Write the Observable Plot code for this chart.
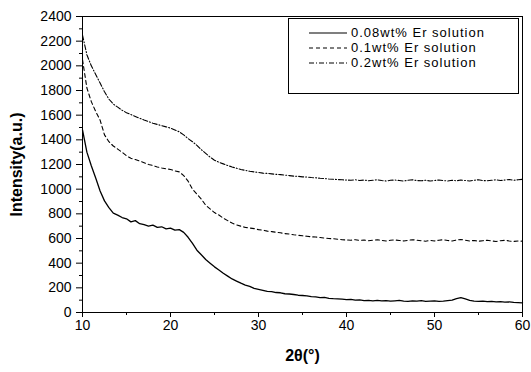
<!DOCTYPE html>
<html>
<head>
<meta charset="utf-8">
<script src="https://cdn.jsdelivr.net/npm/d3@7"></script>
<script src="https://cdn.jsdelivr.net/npm/@observablehq/plot@0.6"></script>
<style>
  html, body { margin: 0; padding: 0; background: #fff; }
  #wrap { position: relative; width: 531px; height: 372px; }
  #wrap svg [aria-label="x-axis label"] text,
  #wrap svg [aria-label="y-axis label"] text { font-weight: bold; font-size: 16px; }
  #legend {
    position: absolute; left: 288px; top: 18px; width: 231px; height: 76px;
    border: 1px solid #000; box-sizing: border-box; background: #fff;
    font-family: "Liberation Sans", Arial, sans-serif; font-size: 13px; line-height: 14px; color: #000;
  }
  #legend .row { position: absolute; left: 20px; height: 14px; line-height: 14px; display: flex; align-items: center; }
  #legend .row span { margin-left: 4px; white-space: nowrap; line-height: 14px; letter-spacing: 1px; }
</style>
</head>
<body>
<div id="wrap"></div>
<script>
// 2θ positions (degrees)
const angles = [10,10.5,11,11.5,12,12.5,13,13.5,14,14.5,15,15.5,16,16.5,17,17.5,18,18.5,19,19.5,
  20,20.5,21,21.5,22,22.5,23,23.5,24,24.5,25,25.5,26,26.5,27,27.5,28,28.5,29,29.5,
  30,30.5,31,31.5,32,32.5,33,33.5,34,34.5,35,35.5,36,36.5,37,37.5,38,38.5,39,39.5,
  40,40.5,41,41.5,42,42.5,43,43.5,44,44.5,45,45.5,46,46.5,47,47.5,48,48.5,49,49.5,
  50,50.5,51,51.5,52,52.5,53,53.5,54,54.5,55,55.5,56,56.5,57,57.5,58,58.5,59,59.5,60];

// 0.08wt% Er solution (solid)
const er008 = [1480,1300,1190,1090,985,905,850,805,790,770,760,735,745,720,712,700,708,690,695,678,
  684,668,672,650,610,560,505,468,430,400,370,345,318,295,272,255,238,222,212,196,
  188,180,172,170,162,160,152,150,146,140,138,135,128,126,120,122,115,112,110,108,
  104,106,100,102,97,99,95,98,94,96,92,95,98,93,90,94,92,96,91,93,
  95,90,92,96,100,112,120,110,98,93,90,92,88,90,86,88,84,86,82,80,78];

// 0.1wt% Er solution (dashed)
const er01 = [2050,1820,1710,1630,1560,1440,1385,1350,1325,1300,1270,1250,1240,1228,1215,1200,1192,1180,1172,1165,
  1160,1148,1140,1110,1065,1000,960,920,870,840,810,790,765,745,725,710,700,690,685,680,
  672,668,660,656,650,646,640,636,630,626,622,618,614,612,608,604,600,598,594,590,
  588,586,590,584,588,582,586,590,584,580,586,588,584,580,585,590,586,582,578,584,
  580,586,590,584,580,588,592,586,580,584,578,582,586,580,576,582,585,580,576,580,578];

// 0.2wt% Er solution (dash-dot)
const er02 = [2250,2090,2000,1930,1860,1790,1730,1690,1665,1640,1620,1605,1590,1575,1560,1548,1535,1525,1515,1505,
  1495,1480,1465,1440,1410,1385,1355,1320,1290,1260,1235,1218,1205,1192,1180,1170,1160,1152,1145,1140,
  1135,1130,1128,1124,1120,1118,1114,1110,1106,1104,1100,1098,1094,1092,1088,1086,1082,1080,1078,1076,
  1074,1072,1076,1070,1074,1068,1072,1076,1070,1066,1072,1074,1070,1066,1072,1076,1070,1068,1072,1066,
  1070,1074,1070,1066,1072,1068,1074,1070,1066,1072,1076,1070,1068,1072,1076,1070,1074,1078,1072,1076,1080];

const seriesNames = ["0.08wt% Er solution", "0.1wt% Er solution", "0.2wt% Er solution"];
const dashes = [null, "4,3", "5,2,1,2"];

const xTicks = [10, 20, 30, 40, 50, 60];
const xMinor = [15, 25, 35, 45, 55];
const yTicks = [0, 200, 400, 600, 800, 1000, 1200, 1400, 1600, 1800, 2000, 2200, 2400];
const yMinor = [100, 300, 500, 700, 900, 1100, 1300, 1500, 1700, 1900, 2100, 2300];

const seriesVals = [er008, er01, er02];
const rows = [];
seriesVals.forEach((vals, i) => vals.forEach((v, j) => rows.push({x: angles[j], y: v, s: seriesNames[i]})));

const lineMarks = seriesNames.map((name, i) =>
  Plot.line(rows.filter(d => d.s === name), {
    x: "x", y: "y", stroke: "#000",
    strokeWidth: i === 0 ? 1.3 : 1.1,
    strokeDasharray: dashes[i]
  })
);

const chart = Plot.plot({
  width: 531,
  height: 372,
  marginLeft: 82,
  marginRight: 9,
  marginTop: 16,
  marginBottom: 60,
  style: { fontFamily: "'Liberation Sans', Arial, sans-serif", fontSize: "14px", color: "#000", background: "#fff" },
  x: { domain: [10, 60] },
  y: { domain: [0, 2400] },
  marks: [
    Plot.frame({ stroke: "#000", strokeWidth: 1 }),
    Plot.axisX({ ticks: xTicks, tickFormat: d3.format("d"), tickSize: 5, tickPadding: 3, label: "2θ(°)", labelAnchor: "center", labelOffset: 48, labelArrow: "none" }),
    Plot.axisX({ ticks: xMinor, tickSize: 3, text: null, label: null }),
    Plot.axisY({ ticks: yTicks, tickFormat: d3.format("d"), tickSize: 6, tickPadding: 5, label: "Intensity(a.u.)", labelAnchor: "center", labelOffset: 72, labelArrow: "none" }),
    Plot.axisY({ ticks: yMinor, tickSize: 3, text: null, label: null }),
    ...lineMarks
  ]
});

const wrap = document.getElementById("wrap");
wrap.appendChild(chart);

// legend overlay
const legend = document.createElement("div");
legend.id = "legend";
const rowTops = [7, 22, 37];
seriesNames.forEach((name, i) => {
  const r = document.createElement("div");
  r.className = "row";
  r.style.top = rowTops[i] + "px";
  r.innerHTML = `<svg width="38" height="4"><line x1="0" y1="2" x2="38" y2="2" stroke="#000" stroke-width="1.1" ${dashes[i] ? `stroke-dasharray="${dashes[i]}"` : ""}/></svg><span>${name}</span>`;
  legend.appendChild(r);
});
wrap.appendChild(legend);
</script>
</body>
</html>
